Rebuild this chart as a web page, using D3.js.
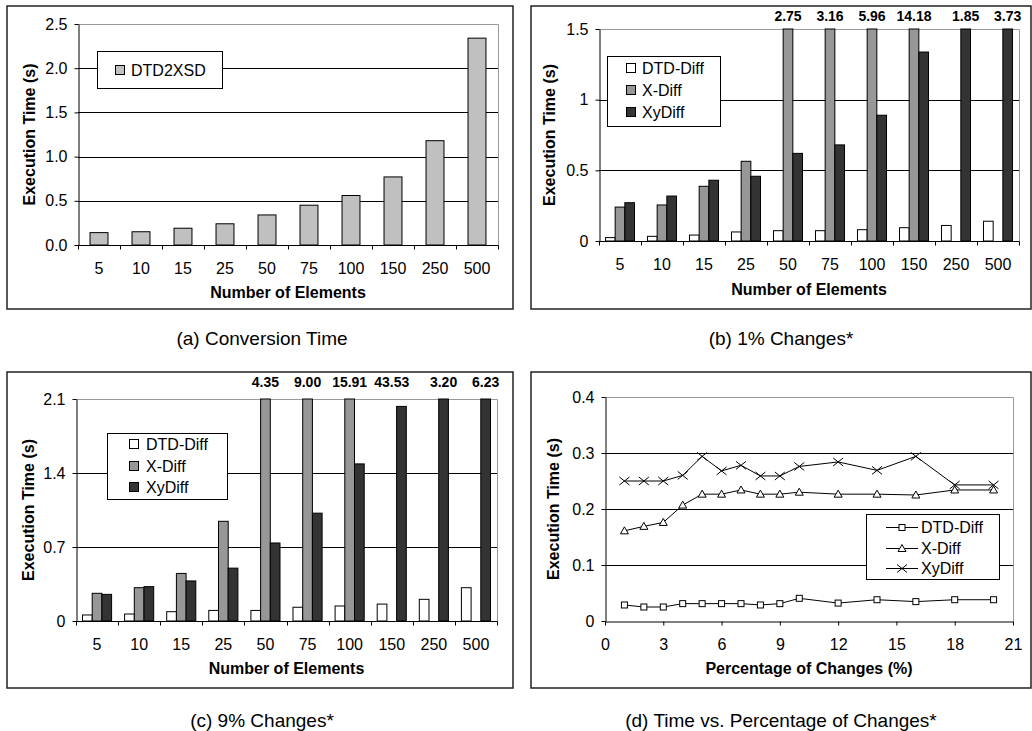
<!DOCTYPE html>
<html>
<head>
<meta charset="utf-8">
<script src="https://cdn.jsdelivr.net/npm/d3@7"></script>
<style>
  body { margin: 0; background: #fff; }
  svg { font-family: "Liberation Sans", Arial, sans-serif; }
</style>
</head>
<body>
<div id="chart"></div>
<script>
// category labels shared by the three bar charts
var categories = ["5", "10", "15", "25", "50", "75", "100", "150", "250", "500"];
var seriesNames = ["DTD-Diff", "X-Diff", "XyDiff"];
var seriesColors = ["#ffffff", "#979797", "#333333"];

// (a) conversion time
var dtd2xsd = [0.14, 0.15, 0.19, 0.24, 0.34, 0.45, 0.56, 0.77, 1.18, 2.34];

// (b) 1% changes
var dtdDiffB = [0.024, 0.033, 0.042, 0.064, 0.073, 0.073, 0.08, 0.094, 0.11, 0.14];
var xDiffB = [0.24, 0.255, 0.387, 0.564, 2.75, 3.16, 5.96, 14.18, null, null];
var xyDiffB = [0.271, 0.318, 0.43, 0.458, 0.62, 0.68, 0.89, 1.337, 1.85, 3.73];

// (c) 9% changes
var dtdDiffC = [0.057, 0.066, 0.088, 0.10, 0.10, 0.13, 0.142, 0.16, 0.205, 0.315];
var xDiffC = [0.262, 0.315, 0.45, 0.943, 4.35, 9.00, 15.91, 43.53, null, null];
var xyDiffC = [0.252, 0.325, 0.379, 0.50, 0.738, 1.02, 1.486, 2.03, 3.20, 6.23];
var hiddenBarsC = [["150", "X-Diff"]]; // labelled only, no bar drawn

// (d) time vs percentage of changes
var changePct = [1, 2, 3, 4, 5, 6, 7, 8, 9, 10, 12, 14, 16, 18, 20];
var dtdDiffD = [0.0286, 0.025, 0.025, 0.031, 0.031, 0.031, 0.031, 0.0286, 0.031, 0.0405, 0.032, 0.038, 0.0346, 0.038, 0.038];
var xDiffD = [0.161, 0.169, 0.176, 0.207, 0.2265, 0.2265, 0.234, 0.2265, 0.2265, 0.23, 0.2265, 0.2265, 0.225, 0.234, 0.234];
var xyDiffD = [0.25, 0.25, 0.25, 0.26, 0.294, 0.268, 0.278, 0.259, 0.259, 0.276, 0.284, 0.269, 0.294, 0.243, 0.243];

// tick values
var yTicksA = [0, 0.5, 1.0, 1.5, 2.0, 2.5];
var yTicksB = [0, 0.5, 1, 1.5];
var yTicksC = [0, 0.7, 1.4, 2.1];
var yTicksD = [0, 0.1, 0.2, 0.3, 0.4];
var xTicksD = [0, 3, 6, 9, 12, 15, 18, 21];

var captions = ["(a) Conversion Time", "(b) 1% Changes*", "(c) 9% Changes*", "(d) Time vs. Percentage of Changes*"];

var svg = d3.select("#chart").append("svg")
	.attr("width", 1032)
	.attr("height", 731);

function drawFrame(f) {
	svg.append("rect")
		.attr("x", f.left).attr("y", f.top)
		.attr("width", f.right - f.left).attr("height", f.bottom - f.top)
		.attr("fill", "none")
		.attr("stroke", "#222")
		.attr("stroke-width", 1.5);
}

function drawPlotBox(p, yScale, ticks, fmt, yTitleX, xTitle, xTitleY) {
	var g = svg.append("g");

	// gridlines
	g.selectAll(".grid")
		.data(ticks.filter(function(t, i) { return i > 0 && i < ticks.length - 1; }))
		.enter().append("line")
		.attr("x1", p.left).attr("x2", p.right)
		.attr("y1", function(d) { return Math.round(yScale(d)) + 0.5; })
		.attr("y2", function(d) { return Math.round(yScale(d)) + 0.5; })
		.attr("stroke", "#000");

	// plot area border (top and right)
	g.append("path")
		.attr("d", "M" + p.left + "," + (p.top + 0.5) + "H" + (p.right + 0.5) + "V" + p.bottom)
		.attr("fill", "none")
		.attr("stroke", "#999");

	var yAxis = d3.axisLeft(yScale)
		.tickValues(ticks)
		.tickFormat(fmt)
		.tickSize(4)
		.tickSizeOuter(0)
		.tickPadding(7);

	var ay = g.append("g")
		.attr("transform", "translate(" + (p.left + 0.5) + ",0)")
		.call(yAxis);
	ay.selectAll("text").attr("font-size", 16).attr("font-family", "Liberation Sans, Arial").attr("fill", "#000");
	ay.selectAll("line, path").attr("stroke", "#000");

	svg.append("text")
		.attr("transform", "translate(" + yTitleX + "," + ((p.top + p.bottom) / 2) + ") rotate(-90)")
		.attr("text-anchor", "middle")
		.attr("dy", "0.35em")
		.attr("font-size", 16)
		.attr("font-weight", "bold")
		.text("Execution Time (s)");

	svg.append("text")
		.attr("x", (p.left + p.right) / 2)
		.attr("y", xTitleY)
		.attr("text-anchor", "middle")
		.attr("font-size", 16)
		.attr("font-weight", "bold")
		.text(xTitle);
}

function barPanel(cfg) {
	var p = cfg.plot;
	drawFrame(cfg.frame);

	var yScale = d3.scaleLinear().domain([0, cfg.yMax]).range([p.bottom, p.top]);
	var x0 = d3.scaleBand().domain(categories).range([p.left, p.right]);
	var x1 = d3.scaleBand().domain(cfg.names).range([0, x0.bandwidth()]).paddingOuter(0.67);

	drawPlotBox(p, yScale, cfg.yTicks, cfg.format, cfg.yTitleX, "Number of Elements", cfg.xTitleY);

	var rows = [];
	cfg.series.forEach(function(vals, s) {
		vals.forEach(function(v, i) {
			if (v === null) return;
			var hidden = (cfg.hidden || []).some(function(h) { return h[0] === categories[i] && h[1] === cfg.names[s]; });
			rows.push({ cat: categories[i], name: cfg.names[s], color: cfg.colors[s], value: v, hidden: hidden });
		});
	});

	svg.append("g").selectAll("rect")
		.data(rows.filter(function(d) { return !d.hidden; }))
		.enter().append("rect")
		.attr("x", function(d) { return x0(d.cat) + x1(d.name); })
		.attr("y", function(d) { return yScale(Math.min(d.value, cfg.yMax)); })
		.attr("width", x1.bandwidth())
		.attr("height", function(d) { return p.bottom - yScale(Math.min(d.value, cfg.yMax)); })
		.attr("fill", function(d) { return d.color; })
		.attr("stroke", "#000")
		.attr("stroke-width", 1);

	// values beyond the axis are printed above the plot
	svg.append("g").selectAll("text")
		.data(rows.filter(function(d) { return d.value > cfg.yMax; }))
		.enter().append("text")
		.attr("x", function(d) { return x0(d.cat) + x1(d.name) + x1.bandwidth() / 2; })
		.attr("y", cfg.frame.top + 15)
		.attr("text-anchor", "middle")
		.attr("font-size", 14)
		.attr("font-weight", "bold")
		.text(function(d) { return d3.format(".2f")(d.value); });

	// x axis line, category labels and boundary ticks
	var ax = svg.append("g").attr("transform", "translate(0," + (p.bottom + 0.5) + ")");
	ax.append("line").attr("x1", p.left).attr("x2", p.right + 0.5).attr("stroke", "#000");
	ax.selectAll(".tk")
		.data(categories.concat(["end"]))
		.enter().append("line")
		.attr("x1", function(d) { return d === "end" ? p.right + 0.5 : Math.round(x0(d)) + 0.5; })
		.attr("x2", function(d) { return d === "end" ? p.right + 0.5 : Math.round(x0(d)) + 0.5; })
		.attr("y1", 0).attr("y2", 4)
		.attr("stroke", "#000");
	ax.selectAll(".lbl")
		.data(categories)
		.enter().append("text")
		.attr("x", function(d) { return x0(d) + x0.bandwidth() / 2; })
		.attr("y", 28)
		.attr("text-anchor", "middle")
		.attr("font-size", 16)
		.text(function(d) { return d; });

	// legend
	var L = cfg.legend;
	var lg = svg.append("g");
	lg.append("rect")
		.attr("x", L.x + 0.5).attr("y", L.y + 0.5)
		.attr("width", L.w).attr("height", L.h)
		.attr("fill", "#fff").attr("stroke", "#000");
	cfg.names.forEach(function(name, i) {
		var cy = L.rows[i];
		lg.append("rect")
			.attr("x", L.sx + 0.5).attr("y", cy - 5 + 0.5)
			.attr("width", 9).attr("height", 9)
			.attr("fill", cfg.colors[i]).attr("stroke", "#000");
		lg.append("text")
			.attr("x", L.tx).attr("y", cy)
			.attr("dy", "0.36em")
			.attr("font-size", 16)
			.text(name);
	});
}

function linePanel() {
	var frame = { left: 531, top: 372, right: 1031, bottom: 688 };
	var p = { left: 605, top: 397, right: 1013, bottom: 621 };
	drawFrame(frame);

	var xScale = d3.scaleLinear().domain([0, 21]).range([p.left, p.right]);
	var yScale = d3.scaleLinear().domain([0, 0.4]).range([p.bottom, p.top]);

	drawPlotBox(p, yScale, yTicksD, d3.format(""), 553, "Percentage of Changes (%)", 674);

	var ax = svg.append("g")
		.attr("transform", "translate(0," + (p.bottom + 0.5) + ")")
		.call(d3.axisBottom(xScale).tickValues(xTicksD).tickSize(4).tickSizeOuter(0).tickPadding(13));
	ax.selectAll("text").attr("font-size", 16).attr("font-family", "Liberation Sans, Arial").attr("fill", "#000");
	ax.selectAll("line, path").attr("stroke", "#000");

	var line = d3.line()
		.x(function(d) { return xScale(d[0]); })
		.y(function(d) { return yScale(d[1]); });

	var series = [dtdDiffD, xDiffD, xyDiffD];
	var markers = ["square", "triangle", "cross"];

	function marker(g, type, x, y) {
		if (type === "square") {
			g.append("rect").attr("x", x - 3).attr("y", y - 3).attr("width", 6).attr("height", 6)
				.attr("fill", "#fff").attr("stroke", "#000");
		} else if (type === "triangle") {
			g.append("path").attr("d", "M" + x + "," + (y - 4) + "L" + (x + 4) + "," + (y + 3) + "L" + (x - 4) + "," + (y + 3) + "Z")
				.attr("fill", "#fff").attr("stroke", "#000");
		} else {
			g.append("path").attr("d", "M" + (x - 5) + "," + (y - 4) + "L" + (x + 5) + "," + (y + 4) + "M" + (x + 5) + "," + (y - 4) + "L" + (x - 5) + "," + (y + 4))
				.attr("fill", "none").attr("stroke", "#000");
		}
	}

	series.forEach(function(vals, s) {
		var pts = d3.zip(changePct, vals);
		var g = svg.append("g");
		g.append("path")
			.attr("d", line(pts))
			.attr("fill", "none")
			.attr("stroke", "#000")
			.attr("stroke-width", 1);
		pts.forEach(function(d) { marker(g, markers[s], xScale(d[0]), yScale(d[1])); });
	});

	// legend
	var lg = svg.append("g");
	lg.append("rect")
		.attr("x", 866.5).attr("y", 514.5)
		.attr("width", 133).attr("height", 65)
		.attr("fill", "#fff").attr("stroke", "#000");
	[527, 548, 568].forEach(function(cy, i) {
		lg.append("line").attr("x1", 886).attr("x2", 918).attr("y1", cy + 0.5).attr("y2", cy + 0.5).attr("stroke", "#000");
		marker(lg, markers[i], 902, cy + 0.5);
		lg.append("text").attr("x", 921).attr("y", cy).attr("dy", "0.36em").attr("font-size", 16).text(seriesNames[i]);
	});
}

barPanel({
	frame: { left: 7, top: 6, right: 513, bottom: 309 },
	plot: { left: 78, top: 24, right: 498, bottom: 245 },
	yMax: 2.5, yTicks: yTicksA, format: d3.format(".1f"),
	yTitleX: 29, xTitleY: 298,
	names: ["DTD2XSD"], colors: ["#c0c0c0"], series: [dtd2xsd],
	legend: { x: 97, y: 51, w: 125, h: 37, sx: 115, tx: 131, rows: [70] }
});

barPanel({
	frame: { left: 531, top: 6, right: 1031, bottom: 309 },
	plot: { left: 599, top: 29, right: 1019, bottom: 241 },
	yMax: 1.5, yTicks: yTicksB, format: d3.format(""),
	yTitleX: 549, xTitleY: 295,
	names: seriesNames, colors: seriesColors, series: [dtdDiffB, xDiffB, xyDiffB],
	legend: { x: 607, y: 56, w: 113, h: 70, sx: 626, tx: 642, rows: [68, 90, 112] }
});

barPanel({
	frame: { left: 7, top: 372, right: 513, bottom: 688 },
	plot: { left: 76, top: 399, right: 497, bottom: 621 },
	yMax: 2.1, yTicks: yTicksC, format: d3.format(""),
	yTitleX: 28, xTitleY: 674,
	names: seriesNames, colors: seriesColors, series: [dtdDiffC, xDiffC, xyDiffC],
	hidden: hiddenBarsC,
	legend: { x: 107, y: 433, w: 120, h: 66, sx: 129, tx: 146, rows: [444, 466, 487] }
});

linePanel();

// captions under each panel
var capPos = [[262, 338], [781, 338], [262, 720], [781, 720]];
svg.selectAll(".caption")
	.data(captions)
	.enter().append("text")
	.attr("x", function(d, i) { return capPos[i][0]; })
	.attr("y", function(d, i) { return capPos[i][1]; })
	.attr("dy", "0.35em")
	.attr("text-anchor", "middle")
	.attr("font-size", 19)
	.text(function(d) { return d; });
</script>
</body>
</html>
